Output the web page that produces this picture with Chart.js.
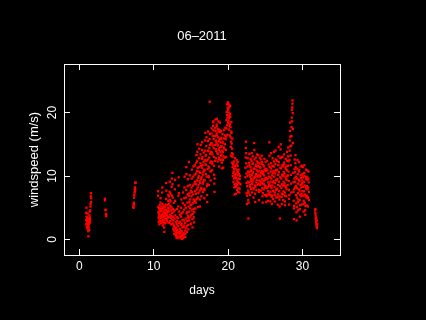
<!DOCTYPE html>
<html>
<head>
<meta charset="utf-8">
<title>06-2011 windspeed</title>
<script src="https://cdn.jsdelivr.net/npm/chart.js@4.4.1/dist/chart.umd.min.js"></script>
<style>
  html, body { margin: 0; padding: 0; background: #000; }
  #wrap { width: 426px; height: 320px; background: #000; }
</style>
</head>
<body>
<div id="wrap"><canvas id="wind-chart" width="426" height="320"></canvas></div>
<script>
// half-hourly readings, hour of day for each slot in a day array
const readingHour = [0, 0.5, 1, 1.5, 2, 2.5, 3, 3.5, 4, 4.5, 5, 5.5,
  6, 6.5, 7, 7.5, 8, 8.5, 9, 9.5, 10, 10.5, 11, 11.5,
  12, 12.5, 13, 13.5, 14, 14.5, 15, 15.5, 16, 16.5, 17, 17.5,
  18, 18.5, 19, 19.5, 20, 20.5, 21, 21.5, 22, 22.5, 23, 23.5];

const _ = null; // no reading

// windspeed (m/s) per day, one value per half hour
const day00 = [_,_,_,_,_,_,_,_,_,_,_,_, _,_,_,_,_,_,_,_,_,_,_,_,
  _,_,_,_,_,_,_,_,_,_,_,_, _,_,_,_,_,_,4.2,3.1,2.4,5.0,3.6,2.0];
const day01 = [2.8,3.4,1.9,2.5,4.1,3.0,1.6,2.2,3.3,1.3,0.5,2.6,
  1.9,3.1,2.4,1.5,3.8,2.9,4.4,3.5,2.7,3.2,4.6,5.2,
  5.6,6.8,7.3,5.9,6.5];
const day03 = [_,_,_,_,_,_,_,_,_,_,_,_, _,_,_,_,_,_,_,_,
  6.4,6.2,_,_,4.7,4.6,_,4.0,3.7,3.9];
const day07 = [_,_,_,_,_,_,_,_,_,_,_,_,
  5.1,5.4,5.0,5.8,5.6,6.6,7.0,_,7.4,7.9,8.2,7.6,8.0,8.9,9.0];
const day10 = [_,_,_,_,_,_,_,_,_,_,_,_, _,_,_,_,_,_,_,_,_,_,_,_,
  _,_,_,7.6,6.9,5.1,4.3,3.5,2.8,4.0,4.9,3.3,
  2.4,3.9,5.4,4.6,3.7,2.9,4.4,5.8,6.5,4.8,3.4,2.6];
const day11 = [3.6,4.5,5.2,2.8,3.9,4.8,7.4,8.2,5.6,3.1,2.2,4.1,
  4.9,3.5,2.7,3.8,5.3,4.4,3.0,1.9,1.2,2.5,3.7,4.6,
  5.1,4.2,3.3,2.6,3.9,4.7,5.5,6.4,8.9,7.7,4.0,3.2,
  2.9,3.8,4.6,5.4,4.3,3.4,2.7,3.6,5.0,6.1,7.0,4.5];
const day12 = [4.4,5.6,6.8,3.5,2.6,4.9,7.5,9.1,6.2,3.9,2.9,5.3,
  6.0,7.2,4.6,3.4,2.4,3.7,5.1,8.3,9.6,6.9,4.2,3.1,
  10.5,8.7,6.6,4.8,3.6,2.5,1.7,3.0,4.4,5.8,2.2,1.4,
  0.9,2.0,3.3,4.6,7.9,9.4,6.1,3.8,1.6,0.6,1.1,2.7];
const day13 = [1.8,0.8,0.3,1.3,2.4,3.5,4.8,2.9,1.5,0.5,0.2,1.0,
  2.1,3.4,5.2,6.9,8.5,9.8,7.3,4.4,2.6,1.2,0.4,0.9,
  1.7,2.8,3.9,1.4,0.6,0.2,1.1,2.3,3.6,5.0,6.3,4.1,
  2.5,1.3,0.5,0.1,0.8,1.9,3.1,4.3,5.7,7.4,2.0,0.7];
const day14 = [0.3,1.0,2.2,3.0,4.7,6.5,8.2,9.9,5.4,2.6,1.4,0.4,
  0.9,1.8,3.3,5.0,6.6,7.8,11.4,10.3,4.1,2.1,1.2,2.9,
  4.3,5.8,7.1,8.4,9.5,3.7,2.3,1.6,3.4,5.2,6.9,12.2,
  3.0,4.4,5.9,7.3,8.6,10.1,6.3,4.9,3.6,2.4,5.5,7.7];
const day15 = [2.5,3.9,5.4,6.8,8.2,9.6,11.0,7.5,4.6,3.2,1.9,4.0,
  5.7,7.1,8.5,9.9,11.5,6.3,4.8,3.5,2.7,4.3,6.0,8.8,
  10.2,11.7,9.1,7.6,6.1,4.9,5.8,7.2,8.7,10.4,12.1,13.3,
  6.4,7.9,9.3,10.8,12.4,13.8,15.0,11.3,8.2,6.6,5.1,9.7];
const day16 = [7.3,8.6,10.0,11.4,12.8,14.3,10.7,9.2,7.7,6.3,5.2,8.9,
  10.5,12.0,13.4,14.9,11.6,9.5,8.1,6.8,7.9,9.8,11.3,12.7,
  14.1,15.3,13.0,11.7,10.2,8.8,7.5,9.0,10.6,12.2,13.7,11.0,
  9.4,8.0,6.5,7.8,9.3,10.9,12.5,14.0,15.6,16.8,13.2,11.8];
const day17 = [10.3,11.8,13.3,14.7,16.1,12.4,9.9,8.4,7.0,5.9,8.7,11.1,
  12.6,14.0,15.5,17.0,13.9,11.5,10.0,8.6,9.8,11.3,12.9,14.4,
  15.8,21.7,16.6,14.9,13.5,12.1,10.7,9.3,10.8,12.3,13.8,15.2,
  16.7,17.5,15.1,13.7,12.2,10.9,11.9,13.4,14.8,16.3,17.9,18.6];
const day18 = [18.5,17.2,15.8,14.4,13.0,11.6,10.2,8.8,7.5,9.6,12.4,14.9,
  16.3,17.6,18.9,17.1,15.6,14.2,12.8,13.9,15.3,16.7,18.1,19.0,
  17.8,16.4,15.0,13.6,12.3,13.5,14.8,16.1,17.4,18.6,17.0,15.5,
  14.1,12.7,11.5,12.9,14.4,15.8,17.2,18.4,16.9,15.3,13.8,12.5];
const day19 = [13.2,14.6,15.9,17.1,16.0,14.7,13.4,12.1,11.2,12.6,14.0,15.4,
  16.6,15.2,13.8,12.5,11.3,_,13.1,14.5,_,15.9,17.2,_,
  14.3,_,12.9,15.0,_,16.4,17.6,_,15.8,14.1,_,13.0,
  16.2,17.5,18.8,20.1,21.3,19.6,18.0,16.5,19.2,20.7,21.6,18.4];
const day20 = [20.4,21.5,20.0,18.7,17.3,19.1,20.8,21.2,19.5,17.9,16.4,18.2,
  19.8,21.0,19.3,17.7,16.1,14.6,13.2,15.4,17.0,18.5,16.8,15.1,
  13.6,12.1,14.3,15.9,13.0,11.4,10.0,11.8,13.4,12.0,10.5,9.1,
  10.7,12.3,11.1,9.6,8.2,7.1,8.7,10.2,11.6,12.8,9.8,8.4];
const day21 = [11.2,9.7,8.3,7.2,8.8,10.4,11.9,12.5,10.9,9.3,7.8,8.6,
  10.1,11.6,12.2,10.6,9.0,7.5,8.1,9.6,11.0,_,10.3,8.9,
  7.4,_,8.0,9.5,_,10.0,_,_,8.7];
const day22 = [_,_,_,_,_,_,_,_,_,_,_,_,
  _,_,_,9.8,11.3,12.9,14.4,15.4,13.6,12.0,10.4,8.9,
  7.3,5.6,6.9,8.4,10.0,11.5,12.8,10.7,9.1,7.7,6.2,3.3,
  5.8,7.4,9.0,10.6,12.1,13.5,11.7,10.2,8.6,7.0,8.3,9.9];
const day23 = [11.4,12.7,10.8,9.2,8.0,9.5,11.0,12.4,13.6,10.1,8.7,7.4,
  8.9,10.4,11.9,13.1,12.0,10.6,9.3,8.1,6.6,7.9,9.7,11.2,
  15.2,14.1,12.6,11.1,9.8,8.5,7.2,5.9,8.3,10.0,11.6,12.9,
  11.8,10.3,9.0,7.8,9.4,10.9,12.3,13.4,11.5,10.0,8.6,9.9];
const day24 = [10.7,12.1,13.3,11.6,10.2,8.8,7.5,6.2,7.8,9.3,10.8,12.0,
  12.9,11.4,10.0,8.6,9.9,11.3,12.6,10.5,9.1,7.7,8.9,10.4,
  11.9,13.2,12.2,10.8,9.5,8.1,6.8,5.8,7.3,8.8,10.3,11.7,
  10.6,9.2,7.9,8.7,10.1,11.5,12.7,11.0,9.6,8.2,7.0,8.5];
const day25 = [9.4,10.8,12.2,11.1,9.7,8.3,7.0,5.9,6.8,8.1,9.6,11.0,
  12.4,10.9,9.5,8.2,7.1,6.1,7.6,9.0,10.4,11.8,9.9,8.4,
  7.2,8.7,15.3,13.2,11.4,9.8,8.4,7.0,6.0,7.5,9.1,10.7,
  12.0,13.6,11.2,9.6,8.1,6.7,5.6,6.9,8.5,10.1,11.6,12.8];
const day26 = [10.5,9.0,7.6,6.4,7.7,9.2,10.8,12.3,13.8,11.5,9.9,8.3,
  7.0,6.0,7.4,8.9,10.4,11.9,14.0,12.6,10.9,9.4,7.9,6.6,
  7.8,9.3,10.9,12.4,11.0,9.5,8.0,6.7,5.5,7.1,8.6,10.2,
  11.7,13.1,14.6,12.2,10.6,9.1,7.6,6.3,5.2,6.8,3.3,8.4];
const day27 = [9.8,11.3,12.8,14.2,15.0,12.9,11.2,9.6,8.1,6.7,5.6,7.2,
  8.7,10.2,11.7,13.0,11.5,10.0,8.5,7.1,6.2,7.6,9.1,10.6,
  12.1,13.4,11.8,10.3,8.8,7.4,6.0,5.4,6.9,8.4,9.9,11.4,
  12.7,11.1,9.6,8.2,6.8,7.9,9.4,10.9,12.4,13.8,11.6,10.0];
const day28 = [8.6,10.1,11.6,13.1,14.5,12.3,10.7,9.2,7.8,6.4,5.5,7.0,
  12.5,14.0,15.6,17.1,18.4,16.2,14.7,13.2,11.7,10.2,8.8,7.4,
  14.8,16.3,17.7,19.2,20.4,18.6,20.8,21.4,21.9,19.9,17.4,15.2,
  10.5,9.0,7.5,6.1,4.9,3.2,5.3,7.9,9.6,11.1,12.6,8.2];
const day29 = [9.1,10.6,12.0,13.3,11.4,9.9,8.4,7.0,5.7,4.3,3.0,5.1,
  6.6,8.1,9.6,11.1,12.5,10.3,8.8,7.3,5.9,4.6,6.3,7.9,
  9.4,10.9,12.2,10.7,9.2,7.7,6.2,4.8,3.6,5.4,7.0,8.6,
  10.1,11.5,9.7,8.2,6.8,5.5,7.2,8.7,10.2,11.6,9.3,7.6];
const day30 = [8.9,10.3,11.4,9.8,8.3,6.9,5.6,4.4,6.1,7.6,9.1,10.5,
  11.7,10.0,8.5,7.1,5.8,4.6,3.9,5.3,6.8,8.3,9.8,11.0,
  9.5,8.0,6.6,5.4,6.9,8.4,9.9,10.9,9.4,7.9,6.5,5.2,
  6.7,8.2,9.6,10.7,9.0,7.5,6.2];
const day31 = [_,_,_,_,_,_,_,_,_,_,_,_, _,_,_,_,_,_,_,_,_,_,_,_,
  _,_,_,_,_,_,_,_,_,_,4.6,4.2,
  4.8,3.9,3.5,3.1,2.8,3.4,2.5,2.2,3.0,2.0,1.8,2.4];

const dayNumbers = [0, 1, 3, 7, 10, 11, 12, 13, 14, 15, 16, 17, 18, 19, 20,
  21, 22, 23, 24, 25, 26, 27, 28, 29, 30, 31];
const daySeries = [day00, day01, day03, day07, day10, day11, day12, day13, day14,
  day15, day16, day17, day18, day19, day20, day21, day22, day23, day24, day25,
  day26, day27, day28, day29, day30, day31];

const xTicks = [0, 10, 20, 30];
const yTicks = [0, 10, 20];
const X_MIN = -2.08, X_MAX = 35.05;
const Y_MIN = -2.44, Y_MAX = 27.64;

const points = [];
dayNumbers.forEach((d, k) => {
  daySeries[k].forEach((v, i) => {
    if (v !== null) points.push({ x: d + readingHour[i] / 24, y: v });
  });
});

const FONT = { family: "'Liberation Sans', Arial, sans-serif", size: 12 };
const WHITE = '#ffffff';

// R style box: ticks point into the plot on all four sides
function boxAxis(position, ticksList, lo, hi, size, extra) {
  const horizontal = position === 'top' || position === 'bottom';
  return Object.assign({
    type: 'linear',
    position: position,
    min: lo,
    max: hi,
    afterBuildTicks: (scale) => { scale.ticks = ticksList.map(v => ({ value: v })); },
    afterFit: (scale) => {
      if (horizontal) scale.height = size; else scale.width = size;
    },
    grid: { drawOnChartArea: false, drawTicks: true, tickLength: -6, color: WHITE, lineWidth: 1 },
    border: { display: true, color: WHITE, width: 1 },
    ticks: { display: false }
  }, extra);
}

new Chart(document.getElementById('wind-chart'), {
  type: 'scatter',
  data: {
    datasets: [{
      data: points,
      pointStyle: 'rect',
      pointRadius: 1.65,
      pointBorderWidth: 0,
      pointBackgroundColor: '#ff0000',
      pointHoverRadius: 1.65
    }]
  },
  options: {
    responsive: false,
    animation: false,
    devicePixelRatio: 1,
    events: [],
    layout: { padding: 0 },
    plugins: { legend: { display: false }, tooltip: { enabled: false }, title: { display: false } },
    scales: {
      x: boxAxis('bottom', xTicks, X_MIN, X_MAX, 65, {
        ticks: { display: true, color: WHITE, font: FONT, padding: 10, maxRotation: 0, autoSkip: false },
        title: { display: true, text: 'days', color: WHITE, font: FONT, padding: { top: 0, bottom: 22 } }
      }),
      x2: boxAxis('top', xTicks, X_MIN, X_MAX, 64, {
        title: { display: true, text: '06–2011', color: WHITE, font: { family: FONT.family, size: 13 }, padding: { top: 29, bottom: 0 } }
      }),
      y: boxAxis('left', yTicks, Y_MIN, Y_MAX, 64, {
        ticks: { display: true, color: WHITE, font: FONT, padding: 11, minRotation: 90, maxRotation: 90, crossAlign: 'center', autoSkip: false },
        title: { display: true, text: 'windspeed (m/s)', color: WHITE, font: { family: FONT.family, size: 13 }, padding: { top: 27, bottom: 0 } }
      }),
      y2: boxAxis('right', yTicks, Y_MIN, Y_MAX, 86, {})
    }
  }
});
</script>
</body>
</html>
